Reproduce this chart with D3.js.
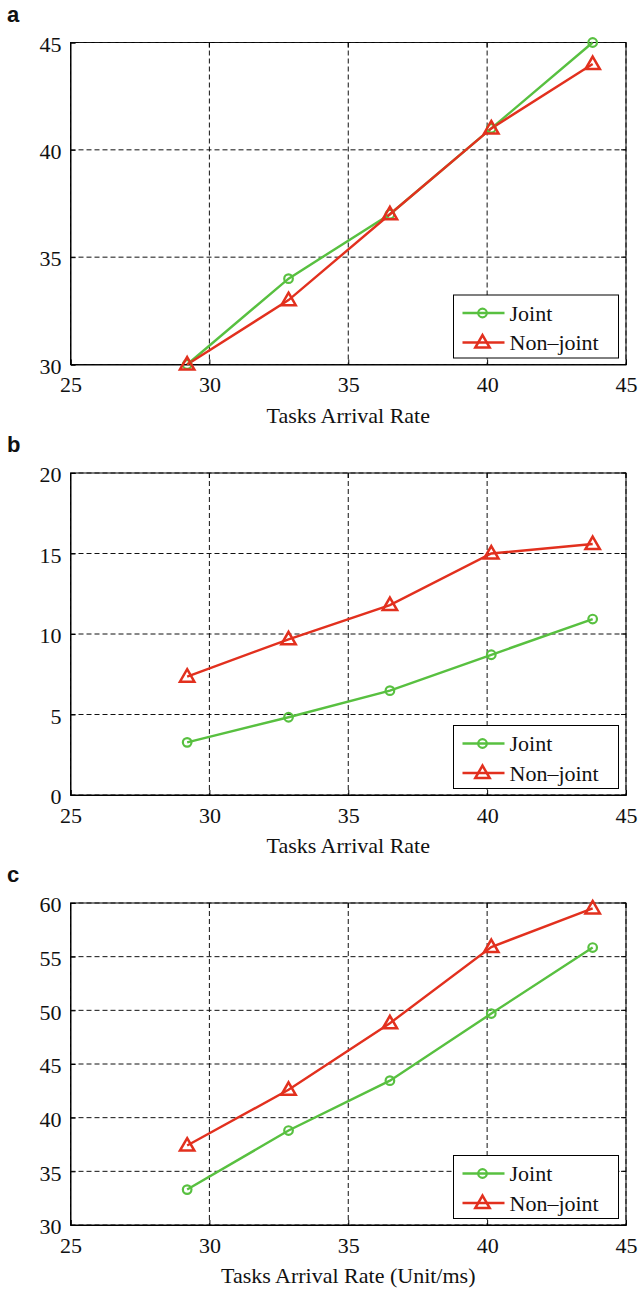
<!DOCTYPE html>
<html>
<head>
<meta charset="utf-8">
<script src="https://cdn.jsdelivr.net/npm/d3@7"></script>
<style>
html,body{margin:0;padding:0;background:#fff;}
svg{display:block;}
</style>
</head>
<body>
<svg id="chart" width="638" height="1291"></svg>
<script>
// ---- data ----
const xRate = [29.2, 32.85, 36.5, 40.15, 43.8];
const xTicks = [25, 30, 35, 40, 45];
const seriesNames = ["Joint", "Non\u2013joint"];
const panelLabels = ["a", "b", "c"];
const axisTitles = ["Tasks Arrival Rate", "Tasks Arrival Rate", "Tasks Arrival Rate (Unit/ms)"];

const jointA = [30, 34, 37, 41, 45];
const nonJointA = [30, 33, 37, 41, 44];
const yTicksA = [30, 35, 40, 45];

const jointB = [3.27, 4.83, 6.48, 8.71, 10.93];
const nonJointB = [7.35, 9.67, 11.8, 15.0, 15.59];
const yTicksB = [0, 5, 10, 15, 20];

const jointC = [33.3, 38.8, 43.45, 49.7, 55.85];
const nonJointC = [37.4, 42.6, 48.8, 55.9, 59.5];
const yTicksC = [30, 35, 40, 45, 50, 55, 60];

// ---- layout ----
const svg = d3.select("#chart");
const left = 70.5, right = 626, plotH = 322;
const tops = [42.5, 473, 903];
const green = "#58c040", red = "#e2301e";
const serif = "'Liberation Serif','Times New Roman',serif";

const panels = [
  {joint: jointA, non: nonJointA, ticks: yTicksA},
  {joint: jointB, non: nonJointB, ticks: yTicksB},
  {joint: jointC, non: nonJointC, ticks: yTicksC}
];

const x = d3.scaleLinear().domain([xTicks[0], xTicks[xTicks.length-1]]).range([left, right]);

function triPath(s){ return `M0,${-s*0.62}L${s*0.6},${s*0.42}L${-s*0.6},${s*0.42}Z`; }

panels.forEach((p, i) => {
  const top = tops[i], bottom = top + plotH;
  const y = d3.scaleLinear().domain([p.ticks[0], p.ticks[p.ticks.length-1]]).range([bottom, top]);
  const g = svg.append("g");

  // panel label
  g.append("text").attr("x", 7).attr("y", top - 21)
    .style("font-family", "'Liberation Sans',Arial,sans-serif").attr("font-weight", "bold")
    .attr("font-size", 22).attr("fill", "#111").text(panelLabels[i]);

  // box
  g.append("rect").attr("x", left).attr("y", top).attr("width", right - left).attr("height", plotH)
    .attr("fill", "#fff").attr("stroke", "#000").attr("stroke-width", 1);

  // grid
  g.append("g").selectAll("line").data(xTicks).join("line")
    .attr("x1", d => x(d)).attr("x2", d => x(d)).attr("y1", top).attr("y2", bottom)
    .attr("stroke", "#111").attr("stroke-width", 1).attr("stroke-dasharray", "5,3");
  g.append("g").selectAll("line").data(p.ticks).join("line")
    .attr("x1", left).attr("x2", right).attr("y1", d => y(d)).attr("y2", d => y(d))
    .attr("stroke", "#111").attr("stroke-width", 1).attr("stroke-dasharray", "5,3");

  // axes (ticks inward)
  const xAx = d3.axisBottom(x).tickValues(xTicks).tickSize(-5).tickPadding(12).tickFormat(d3.format("d"));
  const xg = g.append("g").attr("transform", `translate(0,${bottom})`).call(xAx);
  const yAx = d3.axisLeft(y).tickValues(p.ticks).tickSize(-5).tickPadding(9).tickFormat(d3.format("d"));
  const yg = g.append("g").attr("transform", `translate(${left},0)`).call(yAx);
  [xg, yg].forEach(a => {
    a.attr("font-family", serif).attr("font-size", 22);
    a.select(".domain").attr("stroke", "#000");
    a.selectAll(".tick line").attr("stroke", "#000");
    a.selectAll(".tick text").style("font-family", serif).attr("font-size", 22).attr("fill", "#111");
  });
  xg.selectAll(".tick text").attr("dy", "0.71em");
  yg.selectAll(".tick text").attr("dy", "0.4em");
  // top/right ticks
  g.append("g").selectAll("line").data(xTicks).join("line")
    .attr("x1", d => x(d)).attr("x2", d => x(d)).attr("y1", top).attr("y2", top + 5).attr("stroke", "#000");
  g.append("g").selectAll("line").data(p.ticks).join("line")
    .attr("x1", right).attr("x2", right - 5).attr("y1", d => y(d)).attr("y2", d => y(d)).attr("stroke", "#000");

  // axis title
  g.append("text").attr("x", (left + right) / 2).attr("y", bottom + 58).attr("text-anchor", "middle")
    .style("font-family", serif).attr("font-size", 22).attr("fill", "#111").text(axisTitles[i]);

  // lines
  const line = d3.line().x((d, k) => x(xRate[k])).y(d => y(d));
  g.append("path").datum(p.joint).attr("d", line).attr("fill", "none").attr("stroke", green).attr("stroke-width", 2.4);
  g.append("path").datum(p.non).attr("d", line).attr("fill", "none").attr("stroke", red).attr("stroke-width", 2.4);

  g.append("g").selectAll("circle").data(p.joint).join("circle")
    .attr("cx", (d, k) => x(xRate[k])).attr("cy", d => y(d)).attr("r", 4.3)
    .attr("fill", "none").attr("stroke", green).attr("stroke-width", 2.2);
  g.append("g").selectAll("path").data(p.non).join("path")
    .attr("transform", (d, k) => `translate(${x(xRate[k])},${y(d)})`).attr("d", triPath(12))
    .attr("fill", "none").attr("stroke", red).attr("stroke-width", 2.5).attr("stroke-linejoin", "miter");

  // legend
  const lw = 165, lh = 63;
  const lx = right - 7.5 - lw, ly = bottom - 6.5 - lh;
  const lg = g.append("g").attr("transform", `translate(${lx},${ly})`);
  lg.append("rect").attr("width", lw).attr("height", lh).attr("fill", "#fff").attr("stroke", "#000").attr("stroke-width", 1);
  const rows = [{name: seriesNames[0], c: green, m: "c"}, {name: seriesNames[1], c: red, m: "t"}];
  rows.forEach((r, k) => {
    const cy = 18 + k * 29.5;
    lg.append("line").attr("x1", 9).attr("x2", 51).attr("y1", cy).attr("y2", cy).attr("stroke", r.c).attr("stroke-width", 2.4);
    if (r.m === "c") {
      lg.append("circle").attr("cx", 29).attr("cy", cy).attr("r", 4.3).attr("fill", "none").attr("stroke", r.c).attr("stroke-width", 2.2);
    } else {
      lg.append("path").attr("transform", `translate(29,${cy})`).attr("d", triPath(12)).attr("fill", "none").attr("stroke", r.c).attr("stroke-width", 2.5);
    }
    lg.append("text").attr("x", 56).attr("y", cy).attr("dy", "0.35em").style("font-family", serif)
      .attr("font-size", 22).attr("fill", "#111").text(r.name);
  });
});
</script>
</body>
</html>
